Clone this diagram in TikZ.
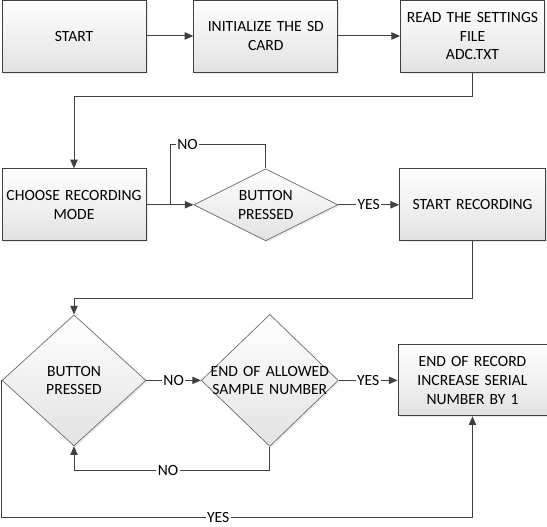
\documentclass[tikz,border=0pt]{standalone}
\usepackage{fontspec}
\setmainfont{Carlito}
\usetikzlibrary{matrix,shapes.geometric,arrows.meta,shadows}

\definecolor{linegray}{HTML}{404040}
\definecolor{boxgray}{HTML}{E2E2E2}

\tikzset{
	stepbox/.style={rectangle, draw=linegray, line width=0.6pt, minimum width=108pt, minimum height=54pt,
		inner xsep=0.5pt, text width=106pt, align=center, top color=white, bottom color=boxgray,
		drop shadow={shadow xshift=1.2pt, shadow yshift=-1.2pt, opacity=0.18}},
	dec/.style={diamond, draw=linegray!80, line width=0.5pt, inner sep=0pt, minimum width=108pt, minimum height=98.25pt,
		top color=white, bottom color=boxgray,
		drop shadow={shadow xshift=1.2pt, shadow yshift=-1.2pt, opacity=0.15}},
	dectext/.style={text width=104pt, align=center, inner sep=0pt},
	arr/.style={draw=linegray, line width=0.75pt, -{Triangle[length=6.5pt,width=5.5pt]}},
	wire/.style={draw=linegray, line width=0.75pt},
	lbl/.style={fill=white, inner sep=1pt},
}

\begin{document}
\begin{tikzpicture}[x=0.75pt, y=-0.75pt, font=\fontsize{11.7}{14}\selectfont]
	\useasboundingbox (0,0) rectangle (547,527);
	\matrix (m) [matrix of nodes, nodes in empty cells, column sep=35.25pt, row sep=54.75pt,
		nodes={anchor=center}, matrix anchor=m-1-1.center] at (74,36) {
		|[stepbox]| START & |[stepbox]| {INITIALIZE THE SD\\CARD} &[8.6pt] |[stepbox]| {READ THE SETTINGS\\FILE\\ADC.TXT} \\[17.25pt]
		|[stepbox]| {CHOOSE RECORDING\\MODE} & |[dec, minimum height=54pt, label={[dectext]center:BUTTON\\PRESSED}]| & |[stepbox, minimum width=109.5pt]| START RECORDING \\
		|[dec, label={[dectext]center:BUTTON\\PRESSED}]| & |[dec, xshift=3pt, minimum width=102.75pt, minimum height=99pt, label={[dectext]center:END OF ALLOWED\\SAMPLE NUMBER}]| & |[stepbox, minimum width=111.75pt, minimum height=53.25pt]| {END OF RECORD\\INCREASE SERIAL\\NUMBER BY 1} \\
	};
	\draw[arr] (m-1-1) -- (m-1-2);
	\draw[arr] (m-1-2) -- (m-1-3);
	\draw[arr] (m-1-3.south) -- ++(0,24) -| (m-2-1.north);
	\draw[arr] (m-2-1) -- (m-2-2);
	\draw[wire] (m-2-2.north) -- ++(0,-24) -| node[lbl, pos=0.41]{NO} ([xshift=18pt]m-2-1.east);
	\draw[arr] (m-2-2) -- node[lbl]{YES} (m-2-3);
	\draw[arr] (m-2-3.south) -- ++(0,57) -| (m-3-1.north);
	\draw[arr] (m-3-1) -- node[lbl]{NO} (m-3-2);
	\draw[arr] (m-3-2.south) -- ++(0,24) -| node[lbl, pos=0.26]{NO} (m-3-1.south);
	\draw[arr] (m-3-2) -- node[lbl]{YES} (m-3-3);
	\draw[arr] (m-3-1.west) -- ++(0,137) -| node[lbl, pos=0.23]{YES} (m-3-3.south);
\end{tikzpicture}
\end{document}
